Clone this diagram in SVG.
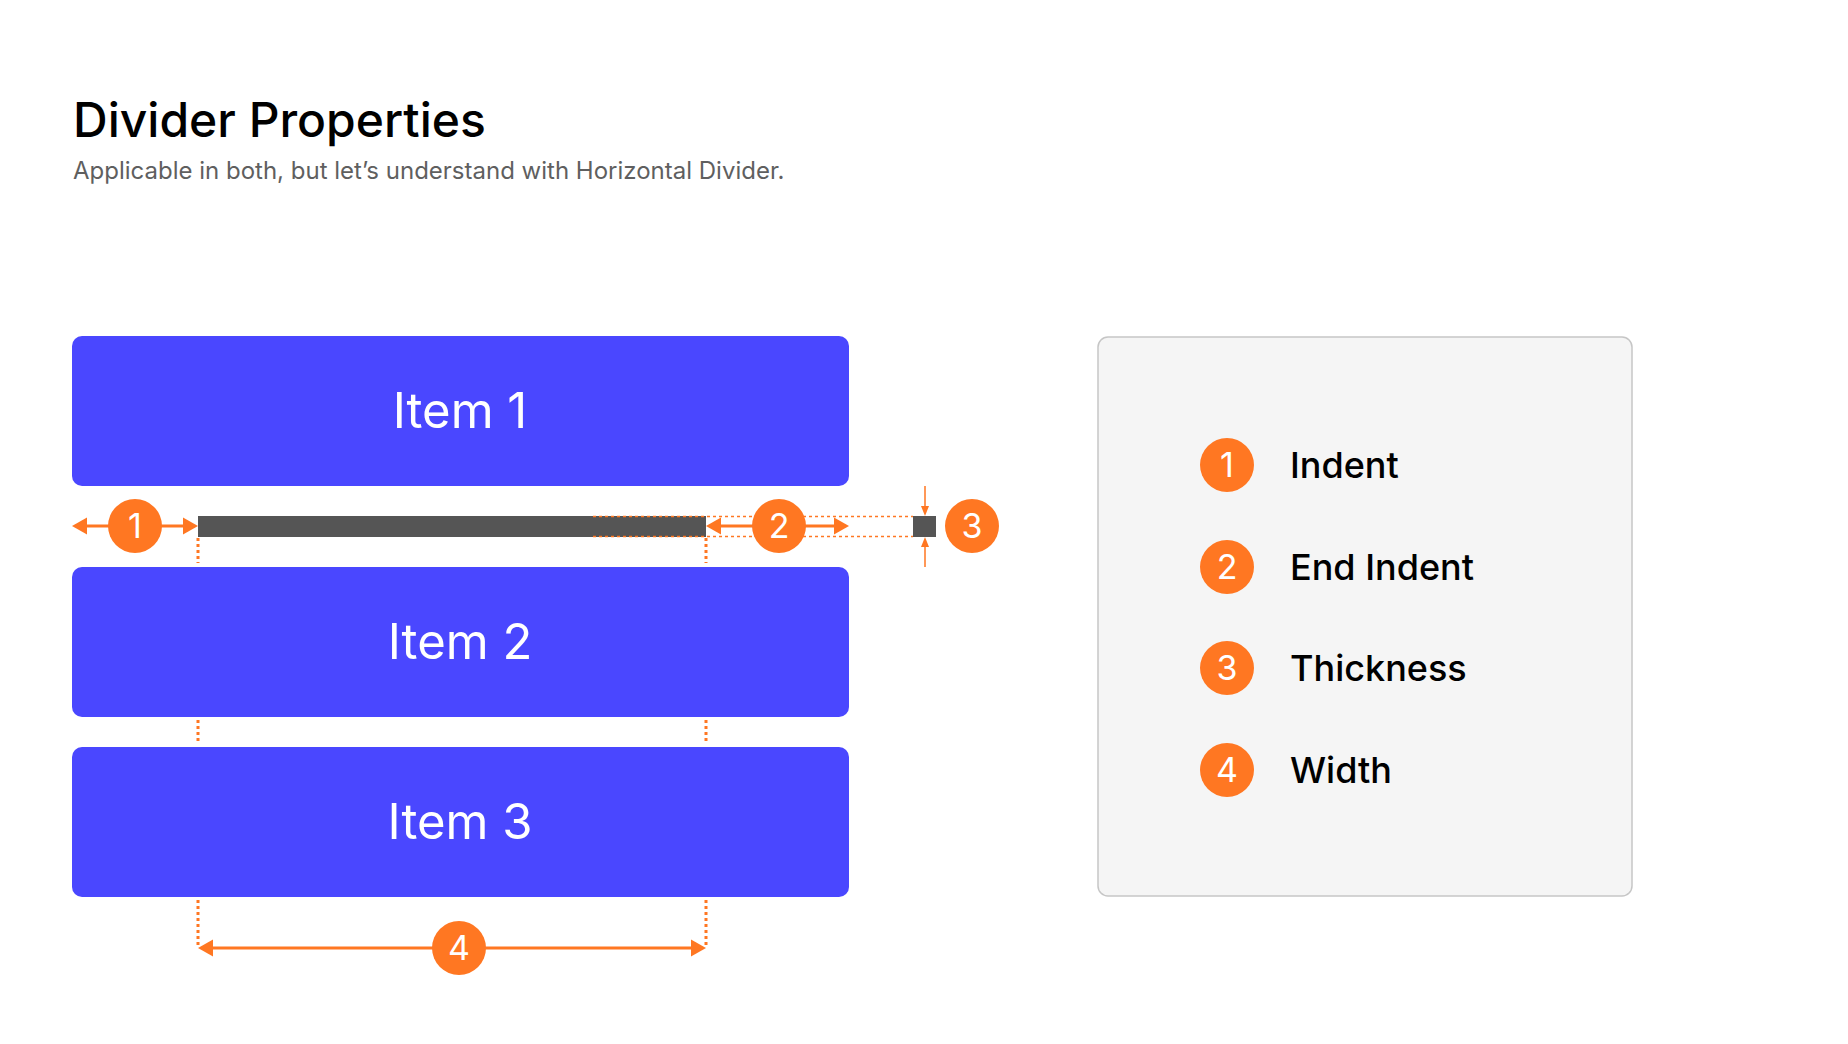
<svg xmlns="http://www.w3.org/2000/svg" width="1848" height="1044" viewBox="0 0 1848 1044">
<style>
.t{font-family:Inter,"Liberation Sans",sans-serif}
.item{fill:#4A47FF}
.itxt{font-family:Inter,"Liberation Sans",sans-serif;font-size:49px;fill:#fff;text-anchor:middle}
.badge{fill:#FF7722}
.btxt{font-family:Inter,"Liberation Sans",sans-serif;font-size:34px;fill:#fff;text-anchor:middle}
.ln{stroke:#FF7722;stroke-width:3;fill:none}
.thin{stroke:#FF7722;stroke-width:1.5;fill:none}
.dot{stroke:#FF7722;stroke-width:3;stroke-dasharray:3 3;fill:none}
.dotthin{stroke:#FF7722;stroke-width:1.5;stroke-dasharray:3 3;fill:none}
.ah{fill:#FF7722}
.leg{font-family:Inter,"Liberation Sans",sans-serif;font-size:36px;font-weight:500;fill:#000}
</style>
<rect width="1848" height="1044" fill="#fff"/>
<g id="title">
<text class="t" x="73" y="137" font-size="48" font-weight="500" fill="#000">Divider Properties</text>
<text class="t" x="73" y="179" font-size="24" fill="#5f5f5f">Applicable in both, but let’s understand with Horizontal Divider.</text>
</g>
<g id="item1"><rect class="item" x="72" y="336" width="777" height="150" rx="10"/><text class="itxt" x="460" y="428">Item 1</text></g>
<g id="item2"><rect class="item" x="72" y="567" width="777" height="150" rx="10"/><text class="itxt" x="460" y="659">Item 2</text></g>
<g id="item3"><rect class="item" x="72" y="747" width="777" height="150" rx="10"/><text class="itxt" x="460" y="839">Item 3</text></g>
<g id="divider">
<rect x="198" y="516" width="508" height="21" fill="#555555"/>
<rect x="913" y="516" width="23" height="21" fill="#555555"/>
</g>
<g id="connectors">
<path class="dotthin" d="M593 516.5H913M593 536.5H913"/>
<path class="dot" d="M198 538V563M706 538V563M198 720V742M706 720V742M198 900V946M706 900V946"/>
<path class="ln" d="M85 526H185"/>
<polygon class="ah" points="72,526 87,517.5 87,534.5"/>
<polygon class="ah" points="198,526 183,517.5 183,534.5"/>
<path class="ln" d="M719 526H836"/>
<polygon class="ah" points="706,526 721,517.5 721,534.5"/>
<polygon class="ah" points="849,526 834,517.5 834,534.5"/>
<path class="ln" d="M211 948H693"/>
<polygon class="ah" points="198,948 213,939.5 213,956.5"/>
<polygon class="ah" points="706,948 691,939.5 691,956.5"/>
<path class="thin" d="M925 486V508M925 545V567"/>
<polygon class="ah" points="925,516 921,506 929,506"/>
<polygon class="ah" points="925,537 921,547 929,547"/>
</g>
<g id="badge1"><circle class="badge" cx="135" cy="526" r="27"/><text class="btxt" x="135" y="538">1</text></g>
<g id="badge2"><circle class="badge" cx="779" cy="526" r="27"/><text class="btxt" x="779" y="538">2</text></g>
<g id="badge3"><circle class="badge" cx="972" cy="526" r="27"/><text class="btxt" x="972" y="538">3</text></g>
<g id="badge4"><circle class="badge" cx="459" cy="948" r="27"/><text class="btxt" x="459" y="960">4</text></g>
<g id="legend">
<rect x="1098" y="337" width="534" height="559" rx="10" fill="#F5F5F5" stroke="#C6C6C6" stroke-width="1.5"/>
<circle class="badge" cx="1227" cy="465" r="27"/><text class="btxt" x="1227" y="477">1</text>
<text class="leg" x="1290" y="478">Indent</text>
<circle class="badge" cx="1227" cy="567" r="27"/><text class="btxt" x="1227" y="579">2</text>
<text class="leg" x="1290" y="580">End Indent</text>
<circle class="badge" cx="1227" cy="668" r="27"/><text class="btxt" x="1227" y="680">3</text>
<text class="leg" x="1290" y="681">Thickness</text>
<circle class="badge" cx="1227" cy="770" r="27"/><text class="btxt" x="1227" y="782">4</text>
<text class="leg" x="1290" y="783">Width</text>
</g>
</svg>
